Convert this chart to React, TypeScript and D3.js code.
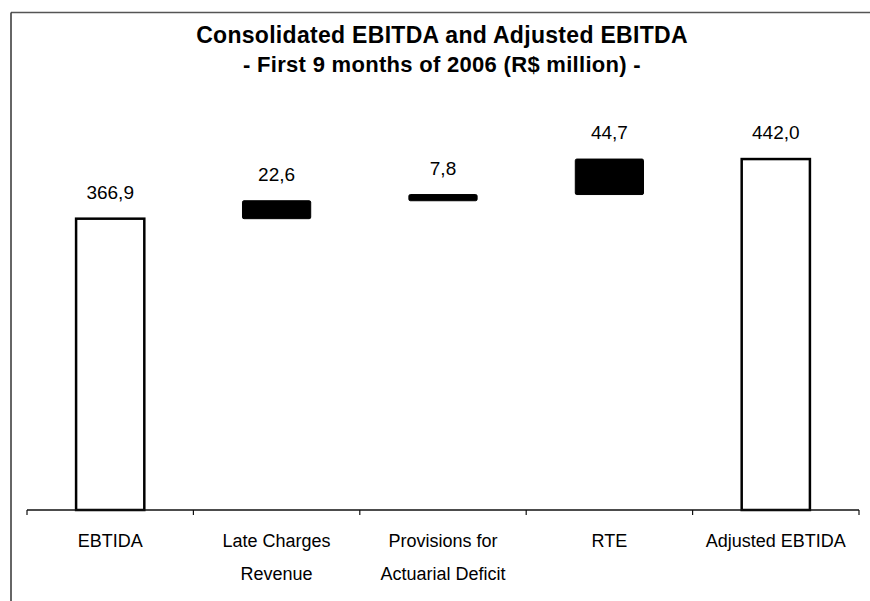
import React from 'react';
import * as d3 from 'd3';

// waterfall: totals are hollow, the adjustments float on top in black
const categories: string[][] = [
  ['EBTIDA'],
  ['Late Charges', 'Revenue'],
  ['Provisions for', 'Actuarial Deficit'],
  ['RTE'],
  ['Adjusted EBTIDA'],
];
const values = [366.9, 22.6, 7.8, 44.7, 442.0];
const kinds = ['total', 'step', 'step', 'step', 'total'];
const valueLabels = ['366,9', '22,6', '7,8', '44,7', '442,0'];
const titleLines = [
  'Consolidated EBITDA and Adjusted EBITDA',
  '- First 9 months of 2006 (R$ million) -',
];

const W = 870;
const H = 601;
const font = '"Liberation Sans", Arial, sans-serif';

const App: React.FC = () => {
  const x = d3.scaleBand<number>()
    .domain(d3.range(values.length))
    .range([27, 859])
    .paddingInner(0.59)
    .paddingOuter(0.295);

  const y = d3.scaleLinear()
    .domain([0, 500])
    .range([510, 113]);

  // running base for the floating bars
  let running = 0;
  const bars = values.map((v, i) => {
    let lo = 0;
    let hi = v;
    if (kinds[i] === 'step') {
      lo = running;
      hi = running + v;
    }
    running = hi;
    return { i, lo, hi, kind: kinds[i] };
  });

  const [x0, x1] = x.range();
  const baseY = y(0);
  const tickXs = d3.range(values.length + 1).map(i => x0 + i * x.step());

  return (
    <svg width={W} height={H} style={{ position: 'absolute', left: 0, top: 0, background: '#fff' }}>
      <rect x={0} y={0} width={W} height={H} fill="#fff" />

      {/* partial frame of the scanned chart */}
      <line x1={11} y1={12.5} x2={W} y2={12.5} stroke="#555" strokeWidth={1.5} />
      <line x1={11} y1={12.5} x2={11} y2={H} stroke="#333" strokeWidth={1.5} />

      <text x={442} y={43} textAnchor="middle" fontFamily={font} fontWeight="bold" fontSize={23}
        letterSpacing={0.3}>
        {titleLines[0]}
      </text>
      <text x={442} y={72} textAnchor="middle" fontFamily={font} fontWeight="bold" fontSize={22}
        letterSpacing={0.3}>
        {titleLines[1]}
      </text>

      {bars.map(b => {
        const bx = x(b.i)!;
        const top = y(b.hi);
        const h = y(b.lo) - y(b.hi);
        return b.kind === 'total' ? (
          <rect key={b.i} x={bx} y={top} width={x.bandwidth()} height={h}
            fill="#fff" stroke="#000" strokeWidth={2.5} />
        ) : (
          <rect key={b.i} x={bx} y={top} width={x.bandwidth()} height={h}
            fill="#000" stroke="#000" strokeWidth={1} rx={1.5} />
        );
      })}

      {bars.map(b => (
        <text key={'v' + b.i} x={x(b.i)! + x.bandwidth() / 2} y={y(b.hi) - 20}
          textAnchor="middle" fontFamily={font} fontSize={19}>
          {valueLabels[b.i]}
        </text>
      ))}

      {/* category axis */}
      <line x1={x0} y1={baseY} x2={x1} y2={baseY} stroke="#111" strokeWidth={1.5} />
      {tickXs.map((tx, i) => (
        <line key={'t' + i} x1={tx} y1={baseY} x2={tx} y2={baseY + 5} stroke="#111" strokeWidth={1.2} />
      ))}

      {categories.map((lines, i) => (
        <text key={'c' + i} x={x(i)! + x.bandwidth() / 2} y={547}
          textAnchor="middle" fontFamily={font} fontSize={18}>
          {lines.map((ln, j) => (
            <tspan key={j} x={x(i)! + x.bandwidth() / 2} dy={j === 0 ? 0 : 33}>{ln}</tspan>
          ))}
        </text>
      ))}
    </svg>
  );
};

export default App;
